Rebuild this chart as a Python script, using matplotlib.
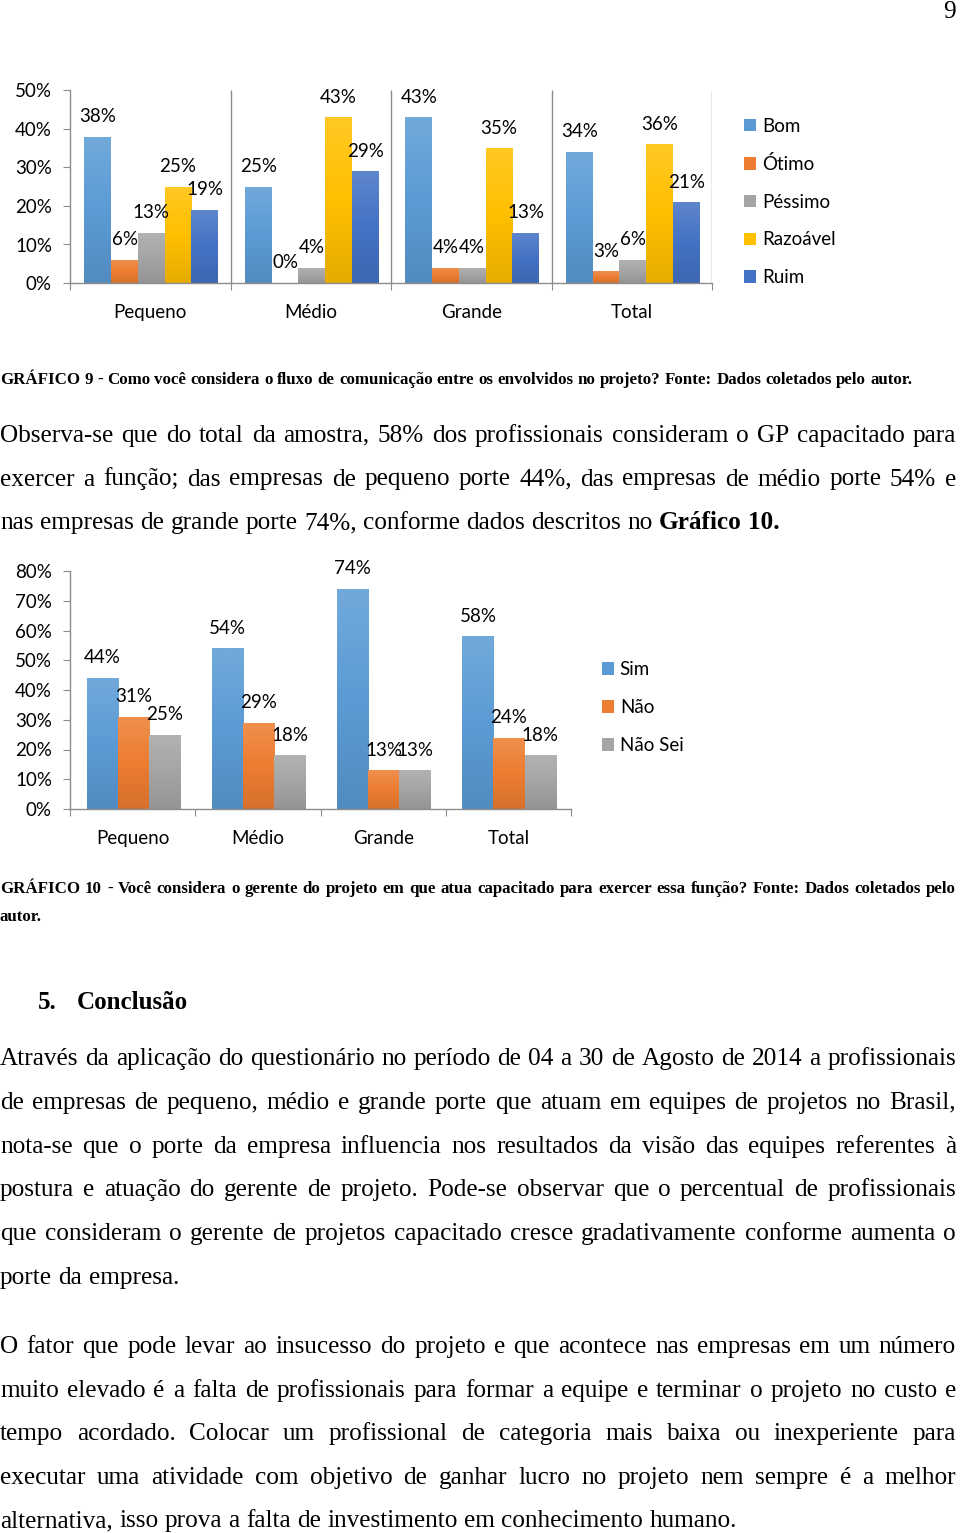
import matplotlib
matplotlib.use('Agg')
import matplotlib.pyplot as plt
from matplotlib.colors import LinearSegmentedColormap, to_rgb
import numpy as np

W, H = 960, 1533
SERIF = 'Liberation Serif'
CHART_FONT = 'Lato'
AXIS_GREY = '#8c8c8c'
CHART_FS = 13.5

plt.rcParams['font.family'] = [CHART_FONT, 'DejaVu Sans']

# --- data: GRÁFICO 9 (fluxo de comunicação) ---
groups = ['Pequeno', 'Médio', 'Grande', 'Total']
comm_series = ['Bom', 'Ótimo', 'Péssimo', 'Razoável', 'Ruim']
comm_bom = [38, 25, 43, 34]
comm_otimo = [6, 0, 4, 3]
comm_pessimo = [13, 4, 4, 6]
comm_razoavel = [25, 43, 35, 36]
comm_ruim = [19, 29, 13, 21]
comm_colors = ['#5b9bd5', '#ed7d31', '#a5a5a5', '#ffc000', '#4472c4']
comm_yticks = [0, 10, 20, 30, 40, 50]

# --- data: GRÁFICO 10 (GP capacitado) ---
gp_series = ['Sim', 'Não', 'Não Sei']
gp_sim = [44, 54, 74, 58]
gp_nao = [31, 29, 13, 24]
gp_naosei = [25, 18, 13, 18]
gp_colors = ['#5b9bd5', '#ed7d31', '#a5a5a5']
gp_yticks = [0, 10, 20, 30, 40, 50, 60, 70, 80]

# --- page text ---
caption9 = ('GRÁFICO 9 - Como você considera o fluxo de comunicação entre os '
            'envolvidos no projeto? Fonte: Dados coletados pelo autor.')
para1 = [
    'Observa-se que do total da amostra, 58% dos profissionais consideram o GP capacitado para',
    'exercer a função; das empresas de pequeno porte 44%, das empresas de médio porte 54% e',
    'nas empresas de grande porte 74%, conforme dados descritos no *Gráfico *10.',
]
caption10 = [
    'GRÁFICO 10 - Você considera o gerente do projeto em que atua capacitado para exercer '
    'essa função? Fonte: Dados coletados pelo',
    'autor.',
]
para2 = [
    'Através da aplicação do questionário no período de 04 a 30 de Agosto de 2014 a profissionais',
    'de empresas de pequeno, médio e grande porte que atuam em equipes de projetos no Brasil,',
    'nota-se que o porte da empresa influencia nos resultados da visão das equipes referentes à',
    'postura e atuação do gerente de projeto. Pode-se observar que o percentual de profissionais',
    'que consideram o gerente de projetos capacitado cresce gradativamente conforme aumenta o',
    'porte da empresa.',
]
para3 = [
    'O fator que pode levar ao insucesso do projeto e que acontece nas empresas em um número',
    'muito elevado é a falta de profissionais para formar a equipe e terminar o projeto no custo e',
    'tempo acordado. Colocar um profissional de categoria mais baixa ou inexperiente para',
    'executar uma atividade com objetivo de ganhar lucro no projeto nem sempre é a melhor',
    'alternativa, isso prova a falta de investimento em conhecimento humano.',
]

fig = plt.figure(figsize=(W / 100, H / 100), dpi=100)
renderer = fig.canvas.get_renderer()


def fx(x):
    return x / W


def fy(y):
    return 1 - y / H


def text_width(s, size, weight='normal', family=SERIF):
    t = fig.text(0, 0, s, fontsize=size, fontweight=weight, family=family)
    w = t.get_window_extent(renderer).width
    t.remove()
    return w


def draw_line(line, baseline, size, justify, x0=0, x1=956, weight='normal'):
    # words starting with '*' are drawn bold
    words = []
    for w in line.split(' '):
        if w.startswith('*'):
            words.append((w[1:], 'bold'))
        else:
            words.append((w, weight))
    widths = [text_width(w, size, wt) for w, wt in words]
    space = text_width('a a', size, weight) - text_width('aa', size, weight)
    if justify and len(words) > 1:
        gap = (x1 - x0 - sum(widths)) / (len(words) - 1)
    else:
        gap = space
    x = x0
    for (w, wt), wd in zip(words, widths):
        fig.text(fx(x), fy(baseline), w, fontsize=size, fontweight=wt,
                 family=SERIF, va='baseline', ha='left', color='black')
        x += wd + gap


def draw_paragraph(lines, first_baseline, size, pitch):
    for i, line in enumerate(lines):
        last = i == len(lines) - 1
        draw_line(line, first_baseline + i * pitch, size, not last)


def style_axes(ax, yticks, ymax):
    ax.set_xlim(0, len(groups))
    ax.set_ylim(0, ymax)
    for s in ['top', 'right']:
        ax.spines[s].set_visible(False)
    for s in ['left', 'bottom']:
        ax.spines[s].set_color(AXIS_GREY)
        ax.spines[s].set_linewidth(1)
    ax.set_yticks(yticks)
    ax.set_yticklabels([f'{v}%' for v in yticks])
    ax.set_xticks(np.arange(len(groups) + 1))
    ax.set_xticklabels([])
    ax.set_xticks(np.arange(len(groups)) + 0.5, minor=True)
    ax.set_xticklabels(groups, minor=True)
    ax.tick_params(axis='y', direction='out', length=5, color=AXIS_GREY,
                   labelsize=CHART_FS, pad=8)
    ax.tick_params(axis='x', which='major', direction='out', length=5,
                   color=AXIS_GREY)
    ax.tick_params(axis='x', which='minor', length=0, labelsize=CHART_FS, pad=15)
    ax.set_facecolor('none')


def shade(col):
    c = np.array(to_rgb(col))
    top = c + (1 - c) * 0.14
    bottom = c * 0.9
    return LinearSegmentedColormap.from_list('g', [bottom, c, top])


def draw_bars(ax, series_values, colors, start, width, ymax):
    x = np.arange(len(groups))
    containers = []
    for i, (vals, col) in enumerate(zip(series_values, colors)):
        xs = x + start + width * (i + 0.5)
        bc = ax.bar(xs, vals, width=width, color=col, edgecolor='none', zorder=2)
        containers.append(bc)
        cmap = shade(col)
        for rect in bc:
            h = rect.get_height()
            if h <= 0:
                continue
            grad = np.linspace(0, 1, 64).reshape(-1, 1)
            im = ax.imshow(grad, cmap=cmap, origin='lower', aspect='auto',
                           extent=(rect.get_x(), rect.get_x() + rect.get_width(), 0, h),
                           zorder=2.1, interpolation='bilinear')
            im.set_clip_path(rect)
        for xv, v in zip(xs, vals):
            ax.annotate(f'{v}%', (xv, v), xytext=(0, 14.5), textcoords='offset points',
                        ha='center', va='center', fontsize=CHART_FS, color='black')
    ax.set_xlim(0, len(groups))
    ax.set_ylim(0, ymax)
    return containers


# ---------------- GRÁFICO 9 ----------------
ax1 = fig.add_axes([fx(70), fy(283), fx(712) - fx(70), (283 - 90.5) / H])
style_axes(ax1, comm_yticks, 50)
ax1.vlines(np.arange(1, len(groups) + 1), 0, 50, color=AXIS_GREY, lw=1, zorder=1)
bars1 = draw_bars(ax1, [comm_bom, comm_otimo, comm_pessimo, comm_razoavel, comm_ruim],
                  comm_colors, 0.09, 0.1665, 50)
ax1.legend(bars1, comm_series, loc='upper left', bbox_to_anchor=(fx(744), fy(117.5)),
           bbox_transform=fig.transFigure, frameon=False, fontsize=CHART_FS,
           handlelength=0.65, handleheight=0.65, handletextpad=0.3,
           labelspacing=1.1, borderpad=0, borderaxespad=0)

# ---------------- GRÁFICO 10 ----------------
ax2 = fig.add_axes([fx(70), fy(809), fx(571) - fx(70), (809 - 571) / H])
style_axes(ax2, gp_yticks, 80)
bars2 = draw_bars(ax2, [gp_sim, gp_nao, gp_naosei], gp_colors, 0.133, 0.248, 80)
ax2.legend(bars2, gp_series, loc='upper left', bbox_to_anchor=(fx(602), fy(661)),
           bbox_transform=fig.transFigure, frameon=False, fontsize=CHART_FS,
           handlelength=0.65, handleheight=0.65, handletextpad=0.3,
           labelspacing=1.12, borderpad=0, borderaxespad=0)

# ---------------- page text ----------------
body_size = 10 * 737 / text_width(para3[-1], 10)
cap_size = 10 * 912 / text_width(caption9, 10, 'bold')

fig.text(fx(956), fy(18), '9', fontsize=body_size, family=SERIF, ha='right',
         va='baseline')

draw_line(caption9, 384, cap_size, False, weight='bold')
draw_paragraph(para1, 442, body_size, 43.5)

draw_line(caption10[0], 893, cap_size, True, weight='bold')
draw_line(caption10[1], 921, cap_size, False, weight='bold')

head_size = 10 * 111 / text_width('Conclusão', 10, 'bold')
fig.text(fx(38), fy(1009), '5.', fontsize=head_size, fontweight='bold', family=SERIF,
         va='baseline')
fig.text(fx(77), fy(1009), 'Conclusão', fontsize=head_size, fontweight='bold',
         family=SERIF, va='baseline')

draw_paragraph(para2, 1065, body_size, 43.8)
draw_paragraph(para3, 1353, body_size, 43.6)

fig.savefig('out.png', dpi=100)
